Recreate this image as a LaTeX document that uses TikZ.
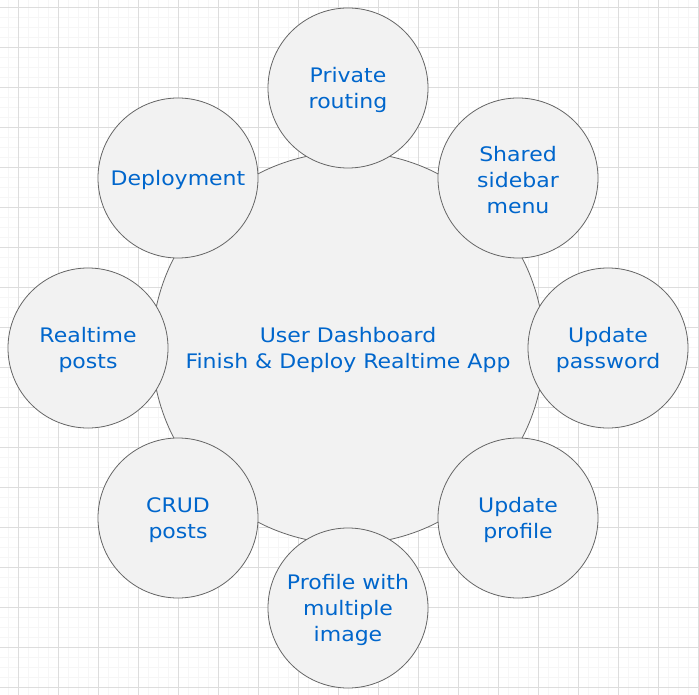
\documentclass[tikz,border=0pt]{standalone}
\usepackage{fontspec}
\setmainfont[FakeStretch=1.1]{DejaVu Sans}
\definecolor{txt}{HTML}{0066CC}
\definecolor{fillc}{HTML}{F2F2F2}
\definecolor{strokec}{HTML}{666666}
\definecolor{minorg}{HTML}{F6F6F6}
\definecolor{majorg}{HTML}{DDDDDD}
\begin{document}
\begin{tikzpicture}[x=1pt,y=-1pt,
  bigc/.style={circle,draw=strokec,fill=fillc,line width=0.8pt,minimum size=392pt,inner sep=0pt},
  smallc/.style={circle,draw=strokec,fill=fillc,line width=0.8pt,minimum size=160pt,inner sep=0pt},
  lbl/.style={align=center,text=txt,inner sep=0pt,font=\fontsize{20}{26}\selectfont}]
\useasboundingbox (0,0) rectangle (699,695);
\fill[white] (0,0) rectangle (699,695);
\foreach \x in {-2,8,...,698} \draw[minorg,line width=0.8pt] (\x,0) -- (\x,695);
\foreach \y in {-3,7,...,695} \draw[minorg,line width=0.8pt] (0,\y) -- (699,\y);
\foreach \x in {18,58,...,698} \draw[majorg,line width=0.8pt] (\x,0) -- (\x,695);
\foreach \y in {7,47,...,695} \draw[majorg,line width=0.8pt] (0,\y) -- (699,\y);
\node[bigc] (main) at (348,348) {};
\node[lbl] (mainT) at ([yshift=-2pt]main.center) {User Dashboard\\Finish \& Deploy Realtime App};
\node[smallc] (routing) at (348,88) {};
\node[lbl] (routingT) at ([yshift=-2pt]routing.center) {Private\\routing};
\node[smallc] (sidebar) at (518,178) {};
\node[lbl] (sidebarT) at ([yshift=-2pt]sidebar.center) {Shared\\sidebar\\menu};
\node[smallc] (password) at (608,348) {};
\node[lbl] (passwordT) at ([yshift=-2pt]password.center) {Update\\password};
\node[smallc] (profile) at (518,518) {};
\node[lbl] (profileT) at ([yshift=-2pt]profile.center) {Update\\profile};
\node[smallc] (image) at (348,608) {};
\node[lbl] (imageT) at ([yshift=-2pt]image.center) {Profile with\\multiple\\image};
\node[smallc] (crud) at (178,518) {};
\node[lbl] (crudT) at ([yshift=-2pt]crud.center) {CRUD\\posts};
\node[smallc] (realtime) at (88,348) {};
\node[lbl] (realtimeT) at ([yshift=-2pt]realtime.center) {Realtime\\posts};
\node[smallc] (deploy) at (178,178) {};
\node[lbl] (deployT) at ([yshift=-2pt]deploy.center) {Deployment};
\end{tikzpicture}
\end{document}
